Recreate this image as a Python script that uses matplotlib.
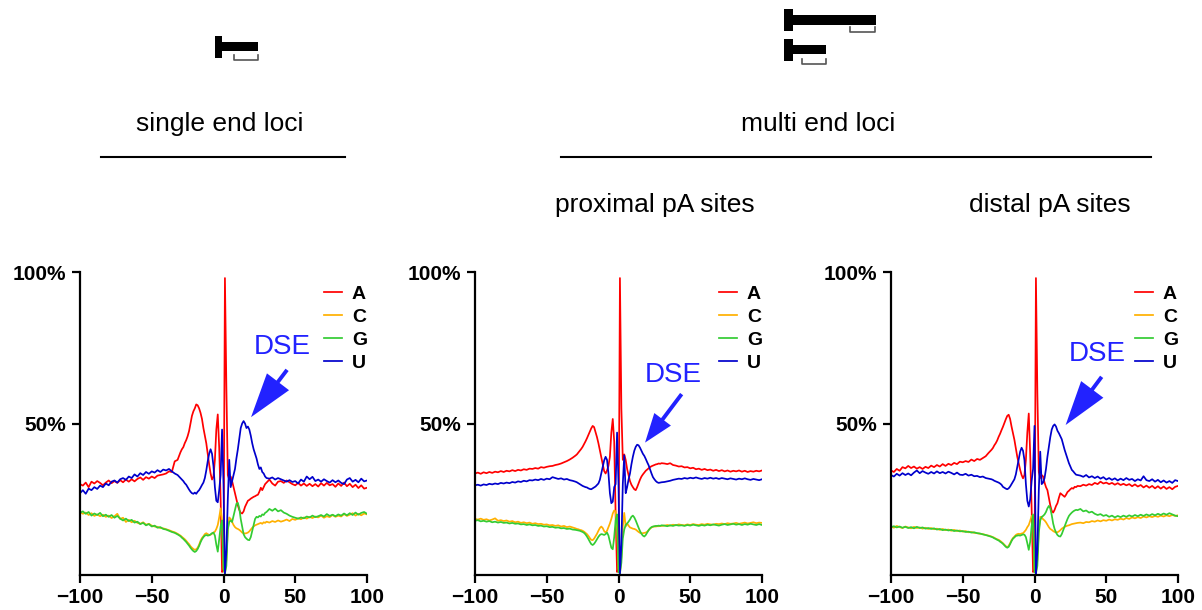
import matplotlib
matplotlib.use('Agg')
import matplotlib.pyplot as plt
from matplotlib.patches import Rectangle
from matplotlib.lines import Line2D

plt.rcParams['font.family'] = ['Liberation Sans', 'DejaVu Sans']

# ---------------- data ----------------
positions = list(range(-100, -31, 2)) + list(range(-30, 31)) + list(range(32, 101, 2))

single_A = [
30.0, 29.5, 30.5, 29.0, 30.8, 30.2, 31.0, 30.4, 29.6, 30.5,
31.2, 30.3, 31.0, 30.4, 31.3, 30.6, 31.5, 30.8, 31.6, 30.9,
31.7, 32.2, 31.4, 32.3, 31.8, 32.5, 32.0, 32.8, 33.0, 33.2,
33.5, 34.2, 34.0, 37.5, 38.0,
40.5, 41.5, 42.2, 43.5, 44.5, 45.8, 47.5, 50.0, 52.5, 54.0,
55.0, 56.3, 56.0, 55.0, 53.5, 51.5, 48.5, 46.0, 43.5, 40.0,
36.5, 33.5, 31.5, 32.5, 38.0, 48.0, 53.0, 42.0, 25.0, 1.0,
1.5, 98.0, 62.0, 33.0, 31.5, 32.5, 31.0, 29.0, 27.0, 25.0,
23.0, 21.5, 20.5, 20.3, 21.0, 22.5, 23.5, 24.5, 24.8, 25.2,
25.5, 25.8, 26.0, 26.3, 26.5, 27.5, 28.8, 28.0, 29.0, 30.0,
30.5,
31.5, 30.2, 29.5, 30.8, 31.0, 30.4, 31.2, 30.6, 30.0, 29.6,
30.4, 29.5, 30.2, 29.4, 30.1, 29.3, 30.0, 29.2, 30.3, 29.5,
30.4, 29.6, 30.0, 29.1, 30.2, 29.4, 30.5, 29.3, 30.1, 29.0,
29.8, 28.7, 29.6, 28.5, 28.8]
single_C = [
20.8, 20.2, 20.6, 19.8, 20.4, 19.5, 20.0, 19.4, 19.9, 19.2,
19.6, 18.8, 19.4, 20.2, 18.5, 18.9, 17.5, 18.2, 17.4, 17.9,
17.2, 16.9, 17.4, 16.6, 16.9, 16.3, 16.0, 15.9, 15.5, 15.4,
15.1, 14.8, 14.4, 14.1, 13.6,
13.0, 12.6, 12.2, 11.8, 11.3, 10.7, 10.2, 9.5, 9.0, 8.6,
8.3, 8.5, 9.0, 10.0, 11.3, 12.2, 12.8, 13.5, 13.8, 13.5,
13.2, 13.3, 13.6, 14.0, 14.3, 15.2, 16.5, 19.0, 22.0, 18.0,
2.0, 0.5, 5.0, 15.0, 19.0, 18.5, 17.5, 16.5, 15.8, 15.4,
15.2, 14.9, 14.5, 14.0, 13.8, 13.7, 13.8, 14.0, 14.4, 15.0,
15.6, 16.0, 16.4, 16.6, 16.8, 17.0, 17.2, 16.9, 17.4, 17.2,
17.6,
17.3, 17.8, 17.5, 18.0, 17.6, 17.9, 18.3, 17.8, 18.5, 18.2,
18.7, 18.4, 19.0, 18.6, 19.2, 18.8, 19.3, 19.0, 19.6, 18.9,
19.4, 19.1, 19.8, 19.2, 19.6, 19.3, 20.1, 19.5, 19.9, 20.4,
19.6, 20.2, 19.7, 20.3, 20.0]
single_G = [
20.5, 21.0, 20.2, 20.8, 19.6, 20.3, 19.8, 20.5, 19.4, 19.9,
19.2, 19.8, 18.9, 19.5, 18.6, 18.0, 18.6, 17.8, 18.2, 17.3,
17.6, 16.8, 17.2, 16.4, 16.8, 16.0, 16.3, 15.6, 15.8, 15.2,
15.0, 14.6, 14.2, 13.9, 13.4,
12.8, 12.3, 11.9, 11.4, 10.9, 10.3, 9.7, 9.0, 8.4, 7.9,
7.6, 7.9, 8.6, 9.6, 10.8, 11.8, 12.5, 13.0, 13.2, 13.0,
13.1, 13.4, 13.8, 14.0, 13.0, 10.0, 7.7, 12.0, 16.0, 18.0,
2.0, 0.5, 3.0, 15.0, 17.5, 18.0, 17.5, 19.5, 21.5, 23.5,
23.8, 22.0, 18.5, 16.0, 13.5, 12.5, 12.0, 11.6, 11.5, 12.5,
14.5, 16.5, 18.5, 19.2, 19.0, 19.5, 19.3, 20.0, 19.8, 20.5,
20.8,
21.8, 21.2, 21.9, 21.0, 21.4, 20.6, 20.2, 19.6, 19.2, 18.9,
18.6, 19.0, 18.7, 19.3, 19.0, 19.6, 19.1, 19.4, 19.8, 19.3,
20.1, 19.5, 19.9, 19.4, 20.0, 19.6, 20.3, 19.7, 20.4, 19.8,
20.6, 19.9, 20.5, 20.8, 20.2]
single_U = [
27.0, 28.0, 26.8, 28.5, 28.0, 29.0, 28.4, 29.5, 29.0, 30.2,
29.6, 30.8, 31.2, 30.5, 31.6, 32.0, 31.4, 32.5, 32.0, 33.2,
32.5, 33.6, 33.0, 34.0, 33.4, 34.2, 33.8, 34.6, 34.0, 34.8,
34.5, 35.0, 34.2, 33.5, 33.0,
32.0, 31.5, 31.0, 30.3, 29.8, 29.0, 28.2, 27.5, 27.0, 26.8,
27.2, 26.8, 27.5, 28.0, 28.8, 29.7, 30.5, 32.0, 34.5, 37.5,
40.0, 41.5, 40.0, 36.0, 29.0, 24.5, 24.0, 28.0, 33.0, 48.0,
30.0, 0.5, 8.0, 25.0, 38.0, 29.0, 31.0, 33.0, 35.0, 38.5,
41.5, 45.0, 48.5, 50.0, 50.8, 50.0, 48.5, 49.0, 48.0, 46.0,
43.5, 41.5, 40.0, 38.5, 36.5, 35.0, 35.5, 34.0, 33.5, 32.5,
32.0,
31.8, 32.2, 31.5, 32.0, 31.6, 31.2, 30.8, 31.3, 30.7, 31.0,
30.2, 31.5, 30.8, 32.5, 31.6, 32.4, 31.0, 31.5, 30.8, 31.6,
31.0, 30.5, 31.3, 30.6, 31.2, 30.4, 30.0, 31.5, 32.0, 30.8,
31.4, 30.6, 31.8, 30.9, 31.2]

proximal_A = [
33.5, 33.8, 33.4, 33.9, 33.6, 34.0, 33.7, 34.1, 33.9, 34.3,
34.0, 34.4, 34.2, 34.6, 34.3, 34.7, 34.5, 34.9, 34.7, 35.1,
35.0, 35.3, 35.1, 35.6, 35.4, 35.7, 35.9, 36.0, 36.3, 36.5,
36.8, 37.2, 37.6, 38.1, 38.7,
39.4, 39.8, 40.4, 41.0, 41.6, 42.3, 43.2, 44.1, 45.1, 46.2,
47.3, 48.4, 49.2, 48.8, 47.2, 45.5, 43.5, 41.2, 39.0, 36.5,
34.3, 33.5, 34.5, 36.0, 39.0, 47.0, 51.5, 44.0, 20.0, 1.0,
2.0, 98.0, 55.0, 38.0, 39.8, 38.0, 35.0, 33.0, 31.0, 29.8,
29.0, 28.3, 28.0, 29.0, 30.3, 31.5, 32.5, 33.2, 33.8, 34.4,
34.8, 35.2, 35.6, 35.9, 36.1, 36.3, 36.5, 36.6, 36.8, 36.7,
36.9,
36.8, 36.6, 36.9, 36.3, 36.1, 35.8, 35.9, 35.5, 35.6, 35.2,
35.4, 34.9, 35.1, 34.7, 35.0, 34.6, 34.8, 34.4, 34.7, 34.3,
34.6, 34.2, 34.5, 34.1, 34.4, 34.2, 34.5, 34.1, 34.4, 34.0,
34.3, 34.1, 34.4, 34.2, 34.5]
proximal_C = [
18.5, 18.3, 18.6, 18.2, 18.4, 18.0, 18.3, 18.7, 17.9, 18.1,
17.8, 18.0, 17.6, 17.8, 17.4, 17.6, 17.2, 17.4, 17.1, 17.3,
16.9, 17.1, 16.8, 16.9, 16.6, 16.7, 16.4, 16.5, 16.2, 16.4,
16.0, 16.2, 15.8, 16.0, 15.7,
15.4, 15.2, 15.1, 14.9, 14.8, 14.6, 14.3, 13.9, 13.5, 12.9,
12.2, 11.6, 11.5, 12.0, 12.8, 13.6, 14.6, 15.5, 16.0, 15.5,
14.5, 14.0, 14.6, 15.8, 17.0, 18.5, 20.3, 21.3, 21.0, 15.0,
2.0, 0.5, 6.0, 16.0, 20.5, 16.0, 17.0, 16.3, 15.7, 15.5,
15.3, 15.2, 15.0, 14.6, 14.2, 13.9, 13.8, 13.8, 13.9, 14.0,
14.3, 14.8, 15.3, 15.7, 15.9, 16.0, 16.0, 16.1, 16.1, 16.2,
16.2,
16.3, 16.5, 16.3, 16.6, 16.4, 16.7, 16.5, 16.4, 16.7, 16.5,
16.8, 16.6, 16.5, 16.8, 16.6, 16.9, 16.7, 16.6, 16.9, 16.8,
17.0, 16.8, 17.1, 16.9, 17.0, 17.2, 16.9, 17.1, 17.3, 17.0,
17.2, 17.4, 17.1, 17.3, 17.2]
proximal_G = [
17.9, 18.1, 17.7, 17.9, 17.6, 17.8, 17.4, 17.6, 17.3, 17.5,
17.2, 17.3, 17.0, 17.2, 16.9, 17.0, 16.7, 16.8, 16.5, 16.7,
16.4, 16.5, 16.2, 16.3, 16.0, 16.1, 15.8, 15.9, 15.6, 15.7,
15.4, 15.5, 15.2, 15.3, 15.0,
14.9, 14.8, 14.7, 14.6, 14.4, 14.2, 13.9, 13.4, 12.7, 11.9,
11.0, 10.2, 9.9, 10.3, 11.0, 11.8, 12.6, 13.2, 13.5, 13.4,
13.2, 13.5, 14.0, 13.0, 11.0, 9.0, 8.5, 12.5, 18.0, 20.0,
1.0, 0.5, 4.0, 12.0, 15.0, 16.5, 17.0, 17.6, 18.3, 19.2,
19.6, 19.0, 18.0, 16.8, 15.6, 14.5, 13.6, 13.0, 12.7, 13.2,
14.0, 14.8, 15.4, 15.8, 16.0, 16.1, 16.2, 16.2, 16.3, 16.2,
16.4,
16.3, 16.1, 16.4, 16.2, 16.5, 16.3, 16.4, 16.2, 16.5, 16.3,
16.6, 16.4, 16.2, 16.5, 16.3, 16.6, 16.4, 16.7, 16.5, 16.3,
16.6, 16.8, 16.5, 16.7, 16.9, 16.6, 16.8, 16.5, 16.8, 16.6,
16.9, 16.7, 16.5, 16.8, 16.5]
proximal_U = [
29.6, 29.8, 29.5, 29.9, 29.7, 30.1, 29.9, 30.2, 30.0, 30.4,
30.2, 30.5, 30.3, 30.7, 30.5, 30.9, 30.7, 31.1, 30.9, 31.3,
31.2, 31.5, 31.3, 31.7, 31.4, 31.8, 31.6, 32.3, 32.0, 31.7,
31.9, 31.5, 31.7, 31.3, 31.1,
30.8, 30.6, 30.3, 30.0, 29.7, 29.4, 29.2, 29.0, 28.9, 28.6,
28.4, 28.3, 28.6, 28.9, 29.2, 29.7, 30.2, 31.4, 33.5, 35.7,
37.8, 39.0, 38.0, 33.5, 27.0, 23.7, 24.2, 29.0, 30.0, 47.0,
30.0, 0.5, 10.0, 30.0, 39.5, 27.0, 29.0, 31.5, 33.5, 36.5,
39.0, 41.0, 42.3, 43.0, 42.8, 42.0, 41.0, 40.0, 39.3, 38.3,
37.2, 36.2, 34.8, 33.5, 32.3, 31.6, 31.0, 30.6, 30.4, 30.5,
30.6,
30.7, 30.9, 31.1, 31.4, 31.6, 31.8, 31.7, 32.0, 31.8, 32.1,
31.9, 32.2, 31.9, 31.7, 32.0, 31.8, 32.1, 31.8, 32.0, 31.7,
32.0, 31.8, 31.6, 31.9, 31.7, 31.5, 31.8, 31.6, 31.9, 31.6,
31.4, 31.7, 31.5, 31.3, 31.6]

distal_A = [
34.5, 34.0, 35.0, 34.4, 35.6, 35.2, 36.0, 35.3, 35.8, 35.1,
35.6, 35.0, 35.7, 35.3, 36.1, 35.6, 36.3, 35.8, 36.6, 36.0,
36.7, 36.3, 37.0, 36.6, 37.4, 37.2, 37.6, 37.3, 38.1, 37.6,
38.3, 38.0, 38.6, 39.2, 40.3,
41.3, 41.9, 42.8, 43.5, 44.4, 45.6, 46.6, 47.8, 48.9, 50.2,
51.4, 52.5, 52.9, 51.5, 49.0, 46.8, 44.6, 41.8, 39.0, 36.8,
34.7, 33.0, 31.9, 33.0, 38.0, 47.0, 53.3, 40.0, 22.0, 1.0,
1.5, 98.0, 60.0, 34.0, 32.0, 33.0, 32.5, 30.5, 29.0, 28.0,
25.5, 23.0, 21.2, 20.6, 21.5, 22.8, 23.7, 25.5, 27.0, 26.6,
26.2, 25.8, 26.5, 27.4, 27.8, 28.3, 28.7, 28.5, 29.1, 29.0,
29.4,
29.3, 29.8, 29.5, 30.0, 29.7, 30.4, 30.0, 30.8, 30.2, 30.5,
30.0, 30.4, 29.8, 30.3, 29.7, 30.1, 29.6, 30.0, 29.3, 29.9,
29.2, 29.7, 28.9, 29.5, 28.8, 29.4, 28.6, 29.3, 28.5, 29.2,
28.4, 29.0, 28.3, 29.1, 29.4]
distal_C = [
16.0, 15.6, 16.2, 15.8, 15.5, 16.0, 15.7, 15.4, 15.9, 15.5,
15.7, 15.3, 15.6, 15.2, 15.5, 15.1, 15.3, 14.9, 15.2, 14.8,
15.0, 14.6, 14.9, 14.5, 14.7, 14.3, 14.5, 14.1, 14.2, 13.9,
13.8, 13.6, 13.5, 13.2, 13.0,
12.7, 12.5, 12.3, 12.0, 11.8, 11.6, 11.3, 10.9, 10.5, 10.0,
9.5, 9.2, 9.6, 10.5, 11.5, 12.2, 12.7, 13.2, 13.5, 13.6,
13.5, 13.7, 13.8, 14.3, 14.9, 15.8, 16.5, 17.9, 19.5, 19.0,
2.0, 0.5, 5.0, 15.0, 19.2, 19.0, 18.4, 18.0, 17.4, 16.6,
15.8, 15.2, 14.9, 14.5, 14.2, 14.1, 14.1, 14.4, 14.8, 15.3,
15.6, 15.9, 16.1, 16.3, 16.4, 16.6, 16.8, 16.9, 17.0, 17.1,
17.2,
17.3, 17.1, 17.5, 17.4, 17.8, 17.6, 18.0, 17.7, 18.1, 17.9,
18.3, 18.0, 18.4, 18.2, 18.6, 18.3, 18.8, 18.5, 19.0, 18.7,
19.1, 18.8, 19.3, 19.0, 19.4, 19.1, 19.5, 19.2, 19.6, 19.3,
19.7, 19.4, 19.8, 19.5, 19.7]
distal_G = [
15.8, 16.1, 15.7, 16.0, 15.6, 15.9, 15.5, 15.8, 15.4, 15.9,
15.5, 15.7, 15.3, 15.5, 15.2, 15.4, 15.0, 15.2, 14.8, 15.0,
14.7, 14.9, 14.5, 14.7, 14.4, 14.5, 14.2, 14.3, 14.0, 14.1,
13.8, 13.7, 13.4, 13.2, 12.9,
12.6, 12.4, 12.1, 11.9, 11.6, 11.4, 11.0, 10.7, 10.3, 9.8,
9.3, 9.0, 9.3, 10.2, 11.2, 12.0, 12.4, 12.9, 13.0, 13.1,
13.0, 13.2, 13.4, 13.3, 12.5, 10.5, 8.3, 11.0, 16.0, 20.0,
1.0, 0.5, 3.0, 14.0, 18.0, 19.2, 19.5, 20.0, 20.8, 22.0,
22.8, 22.0, 19.8, 17.0, 15.2, 14.0, 13.2, 12.8, 12.7, 13.5,
14.8, 16.0, 17.3, 18.5, 19.5, 20.1, 20.6, 21.0, 21.3, 21.5,
21.4,
21.8, 21.0, 21.3, 20.6, 20.9, 20.2, 19.8, 20.1, 19.5, 19.8,
19.2, 19.6, 19.0, 19.5, 19.1, 19.6, 19.2, 19.7, 19.3, 19.8,
19.4, 19.9, 19.5, 20.0, 19.6, 20.1, 19.7, 20.2, 19.8, 20.3,
19.9, 20.4, 20.0, 19.6, 19.4]
distal_U = [
33.0, 32.5, 33.4, 32.8, 33.6, 33.0, 33.5, 32.9, 33.8, 34.5,
33.6, 34.3, 33.8, 33.4, 34.0, 33.5, 34.2, 33.6, 34.0, 33.5,
34.1, 33.7, 33.2, 33.8, 33.1, 33.0, 33.4, 32.8, 33.1, 32.6,
32.7, 32.3, 32.5, 32.0, 31.8,
31.6, 31.4, 31.1, 30.9, 30.7, 30.5, 30.2, 29.8, 29.1, 28.8,
28.5, 28.3, 28.6, 29.2, 30.0, 30.8, 31.6, 33.2, 35.7, 38.3,
40.7, 42.0, 41.0, 37.9, 30.0, 24.5, 22.6, 25.0, 31.0, 35.0,
49.2, 0.5, 8.0, 28.0, 40.7, 30.0, 30.5, 32.0, 35.0, 39.0,
42.3, 45.5, 48.0, 49.2, 49.7, 49.0, 47.6, 46.8, 45.8, 44.8,
43.0, 41.3, 39.8, 38.2, 36.9, 35.8, 34.7, 34.2, 33.6, 33.1,
33.0,
32.8, 32.4, 33.0, 32.2, 32.6, 32.0, 32.5, 31.8, 32.3, 31.5,
32.0, 31.4, 31.9, 31.2, 31.8, 31.3, 32.0, 31.4, 31.7, 31.0,
31.6, 31.2, 32.6, 31.3, 31.0, 31.6, 30.8, 31.4, 30.6, 31.2,
30.5, 31.0, 30.4, 31.3, 31.0]

nucleotides = ['A', 'C', 'G', 'U']
x_ticks = [-100, -50, 0, 50, 100]
y_ticks = [50, 100]
y_tick_labels = ['50%', '100%']
titles = ['single end loci', 'multi end loci', 'proximal pA sites', 'distal pA sites']

# ---------------- style / layout ----------------
colors = {'A': '#ff0000', 'C': '#ffb000', 'G': '#33cc33', 'U': '#0000cc'}
dse_color = '#2222ff'
W, H = 1202, 610
fig = plt.figure(figsize=(W / 100, H / 100), dpi=100)


def fx(px):
    return px / W


def fy(py):
    return 1 - py / H


panels = [
    dict(A=single_A, C=single_C, G=single_G, U=single_U, left=80,
         text=(40.8, 75.2), tail=(44.3, 67.7), tip=(19.2, 52.1), head=(1.6, 1.0)),
    dict(A=proximal_A, C=proximal_C, G=proximal_G, U=proximal_U, left=475,
         text=(38.3, 66.0), tail=(44.0, 59.7), tip=(18.5, 43.7), head=(1.05, 0.75)),
    dict(A=distal_A, C=distal_C, G=distal_G, U=distal_U, left=891,
         text=(43.9, 72.9), tail=(46.8, 65.4), tip=(21.7, 49.5), head=(1.6, 1.0)),
]

for p in panels:
    ax = fig.add_axes([fx(p['left']), fy(575), 287 / W, 303 / H])
    for nt in nucleotides:
        ax.plot(positions, p[nt], color=colors[nt], lw=1.25, label=nt)
    ax.set_xlim(-100, 100)
    ax.set_ylim(0, 100)
    ax.set_xticks(x_ticks)
    ax.set_yticks(y_ticks)
    ax.set_yticklabels(y_tick_labels)
    for s in ['top', 'right']:
        ax.spines[s].set_visible(False)
    for s in ['left', 'bottom']:
        ax.spines[s].set_linewidth(1.6)
    ax.tick_params(direction='out', length=5.8, width=1.6, labelsize=15)
    ax.tick_params(axis='x', pad=3.5)
    ax.tick_params(axis='y', pad=4.5)
    for lbl in ax.get_xticklabels() + ax.get_yticklabels():
        lbl.set_fontweight('bold')
    ax.legend(loc='upper right', bbox_to_anchor=(1.0, 0.955), frameon=False,
              prop={'weight': 'bold', 'size': 14}, handlelength=0.95,
              handletextpad=0.5, labelspacing=0.27, borderpad=0, borderaxespad=0)
    ax.text(p['text'][0], p['text'][1], 'DSE', color=dse_color, fontsize=20,
            ha='center', va='center')
    hl, hw = p['head']
    ax.annotate('', xy=p['tip'], xytext=p['tail'],
                arrowprops=dict(arrowstyle='simple,head_length=%g,head_width=%g,tail_width=0.14' % (hl, hw),
                                mutation_scale=20, color=dse_color, shrinkA=0, shrinkB=0, lw=0))

# headers
fig.text(fx(220), fy(124), titles[0], fontsize=19, ha='center', va='center')
fig.text(fx(818), fy(124), titles[1], fontsize=19, ha='center', va='center')
fig.text(fx(655), fy(205), titles[2], fontsize=19, ha='center', va='center')
fig.text(fx(1050), fy(205), titles[3], fontsize=19, ha='center', va='center')
fig.add_artist(Line2D([fx(101), fx(345)], [fy(157), fy(157)], color='k', lw=1.5))
fig.add_artist(Line2D([fx(561), fx(1151)], [fy(157), fy(157)], color='k', lw=1.5))


def gene_icon(x0, xblock, xend, yb0, yb1, ybar0, ybar1, br0, br1, bry0, bry1):
    fig.add_artist(Rectangle((fx(x0), fy(yb1)), (xblock - x0) / W, (yb1 - yb0) / H,
                             transform=fig.transFigure, color='k', lw=0))
    fig.add_artist(Rectangle((fx(xblock), fy(ybar1)), (xend - xblock) / W, (ybar1 - ybar0) / H,
                             transform=fig.transFigure, color='k', lw=0))
    fig.add_artist(Line2D([fx(br0), fx(br0), fx(br1), fx(br1)],
                          [fy(bry0), fy(bry1), fy(bry1), fy(bry0)], color='#555555', lw=1.2))


gene_icon(215, 222, 258, 36, 58, 42, 51, 234, 258, 55, 60)
gene_icon(784, 793, 876, 9, 31, 15, 25, 850, 875, 27, 32)
gene_icon(784, 793, 826, 39, 61, 45, 54, 802, 826, 59, 64)

fig.savefig('out.png', dpi=100)
